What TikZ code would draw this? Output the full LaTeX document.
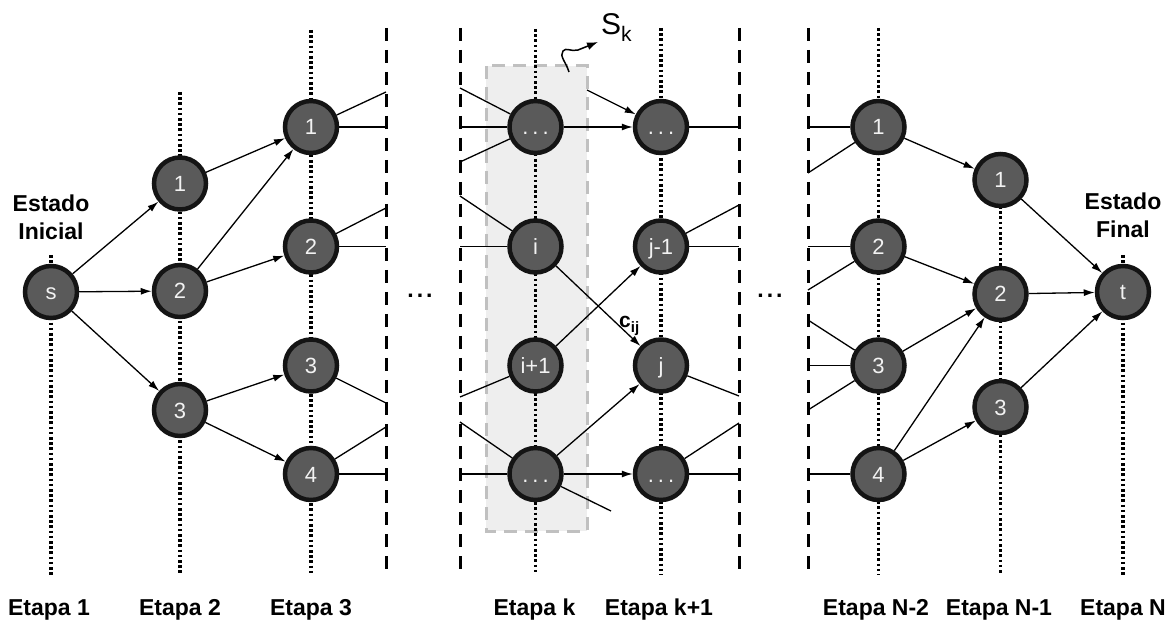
\documentclass[tikz,border=0pt]{standalone}
\usepackage{fontspec}
\setmainfont{Liberation Sans}
\usetikzlibrary{arrows.meta}
\definecolor{nodegray}{HTML}{5A5A5A}
\definecolor{nodeborder}{HTML}{141414}
\definecolor{boxfill}{HTML}{EEEEEE}
\definecolor{boxline}{HTML}{C0C0C0}
\definecolor{nodetext}{HTML}{F2F2F2}
\begin{document}
\begin{tikzpicture}[x=1pt,y=-1pt,
  st/.style={circle,fill=nodegray,draw=nodeborder,line width=4.5pt,minimum size=52pt,inner sep=0pt,outer sep=2.25pt,text=nodetext,font=\fontsize{22}{22}\selectfont,text height=16pt,text depth=0pt},
  ed/.style={line width=1.3pt},
  ar/.style={ed,-{Latex[length=11pt,width=7pt]}},
  dotl/.style={line width=3.2pt,dash pattern=on 2.6pt off 2.6pt},
  dashl/.style={line width=3pt,dash pattern=on 13pt off 9pt},
  lab/.style={font=\fontsize{23}{28}\selectfont\bfseries,inner sep=0pt},
  skbox/.style={fill=boxfill,draw=boxline,line width=3pt,dash pattern=on 13pt off 8pt}]
\useasboundingbox (0,0) rectangle (1176,620);
% shaded set S_k
\draw[skbox] (486,66) rectangle (587,531);
% dotted stage lines
\draw[dotl] (51,255) -- (51,575);
\draw[dotl] (180,92) -- (180,575);
\draw[dotl] (311,30) -- (311,575);
\draw[dotl] (535.5,29) -- (535.5,575);
\draw[dotl] (661,28) -- (661,575);
\draw[dotl] (878.5,28) -- (878.5,575);
\draw[dotl] (1000.5,180) -- (1000.5,575);
\draw[dotl] (1123,255) -- (1123,575);
% dashed separators
\draw[dashl] (386,28) -- (386,575);
\draw[dashl] (460,28) -- (460,575);
\draw[dashl] (739,28) -- (739,575);
\draw[dashl] (808,28) -- (808,575);
% nodes
\node[st] (s) at (51,292) {s};
\node[st] (a1) at (180,183.5) {1};
\node[st] (a2) at (180,291) {2};
\node[st] (a3) at (180,410) {3};
\node[st] (b1) at (311,127) {1};
\node[st] (b2) at (311,246.5) {2};
\node[st] (b3) at (311,365.5) {3};
\node[st] (b4) at (311,474) {4};
\node[st] (k1) at (535.5,127) {.\kern4pt.\kern4pt.};
\node[st] (k2) at (535.5,246.5) {i};
\node[st] (k3) at (535.5,365.5) {i+1};
\node[st] (k4) at (535.5,474) {.\kern4pt.\kern4pt.};
\node[st] (m1) at (661,127) {.\kern4pt.\kern4pt.};
\node[st] (m2) at (661,246.5) {j-1};
\node[st] (m3) at (661,365.5) {j};
\node[st] (m4) at (661,474) {.\kern4pt.\kern4pt.};
\node[st] (n1) at (878.5,127) {1};
\node[st] (n2) at (878.5,246.5) {2};
\node[st] (n3) at (878.5,365.5) {3};
\node[st] (n4) at (878.5,474) {4};
\node[st] (p1) at (1000.5,180) {1};
\node[st] (p2) at (1000.5,294) {2};
\node[st] (p3) at (1000.5,407) {3};
\node[st] (t) at (1123,292) {t};
% free ends
\coordinate (b1u) at (386,92);   \coordinate (b1h) at (386,127);
\coordinate (b2u) at (386,208);  \coordinate (b2h) at (386,246.5);
\coordinate (b3d) at (386,403);
\coordinate (b4u) at (386,427);  \coordinate (b4h) at (386,474);
\coordinate (k1a) at (460,88);   \coordinate (k1h) at (460,127);  \coordinate (k1b) at (460,162);
\coordinate (k2a) at (460,196);  \coordinate (k2h) at (460,246.5);
\coordinate (k3b) at (460,397);
\coordinate (k4a) at (460,422);  \coordinate (k4h) at (460,474);
\coordinate (k4e) at (611,511);
\coordinate (m1s) at (587,90);
\coordinate (m1h) at (739,127);
\coordinate (m2u) at (739,205);  \coordinate (m2h) at (739,246.5);
\coordinate (m3d) at (739,396);
\coordinate (m4u) at (739,423);  \coordinate (m4h) at (739,474);
\coordinate (n1h) at (808,127);  \coordinate (n1u) at (808,173);
\coordinate (n2h) at (808,246.5);\coordinate (n2u) at (808,290);
\coordinate (n3d) at (808,320);  \coordinate (n3h) at (808,365.5); \coordinate (n3u) at (808,410);
\coordinate (n4h) at (808,474);
% edges, first part
\draw[ar] (s) -- (a1);
\draw[ar] (s) -- (a2);
\draw[ar] (s) -- (a3);
\draw[ar] (a1) -- (b1);
\draw[ar] (a2) -- (b1);
\draw[ar] (a2) -- (b2);
\draw[ar] (a3) -- (b3);
\draw[ar] (a3) -- (b4);
\draw[ed] (b1) -- (b1u); \draw[ed] (b1) -- (b1h);
\draw[ed] (b2) -- (b2u); \draw[ed] (b2) -- (b2h);
\draw[ed] (b3) -- (b3d);
\draw[ed] (b4) -- (b4u); \draw[ed] (b4) -- (b4h);
% middle part
\draw[ed] (k1a) -- (k1); \draw[ed] (k1h) -- (k1); \draw[ed] (k1b) -- (k1);
\draw[ed] (k2a) -- (k2); \draw[ed] (k2h) -- (k2);
\draw[ed] (k3b) -- (k3);
\draw[ed] (k4a) -- (k4); \draw[ed] (k4h) -- (k4);
\draw[ed] (k4) -- (k4e);
\draw[ar] (m1s) -- (m1);
\draw[ar] (k1) -- (m1);
\draw[ar] (k2) -- (m3);
\draw[ar] (k3) -- (m2);
\draw[ar] (k4) -- (m3);
\draw[ar] (k4) -- (m4);
\draw[ed] (m1) -- (m1h);
\draw[ed] (m2) -- (m2u); \draw[ed] (m2) -- (m2h);
\draw[ed] (m3) -- (m3d);
\draw[ed] (m4) -- (m4u); \draw[ed] (m4) -- (m4h);
% last part
\draw[ed] (n1h) -- (n1); \draw[ed] (n1u) -- (n1);
\draw[ed] (n2h) -- (n2); \draw[ed] (n2u) -- (n2);
\draw[ed] (n3d) -- (n3); \draw[ed] (n3h) -- (n3); \draw[ed] (n3u) -- (n3);
\draw[ed] (n4h) -- (n4);
\draw[ar] (n1) -- (p1);
\draw[ar] (n2) -- (p2);
\draw[ar] (n3) -- (p2);
\draw[ar] (n4) -- (p2);
\draw[ar] (n4) -- (p3);
\draw[ar] (p1) -- (t);
\draw[ar] (p2) -- (t);
\draw[ar] (p3) -- (t);
% labels
\node[lab,align=center,anchor=north] (ei) at (51,195) {Estado\\Inicial};
\node[lab,align=center,anchor=north] (ef) at (1123,193) {Estado\\Final};
\node[lab,anchor=base] (d1) at (420,298) {.\kern3pt.\kern3pt.};
\node[lab,anchor=base] (d2) at (770,298) {.\kern3pt.\kern3pt.};
\node[inner sep=0pt,anchor=base west,font=\fontsize{21}{21}\selectfont\bfseries] (cij) at (619,328) {c\raisebox{-5pt}{\fontsize{15}{15}\selectfont ij}};
\node[inner sep=0pt,anchor=base west] (sk) at (601,35) {\fontsize{30}{30}\selectfont S\raisebox{-7pt}{\fontsize{21}{21}\selectfont k}};
\draw[line width=1.5pt,-{Latex[length=11pt,width=8pt]}] (569,72) .. controls (566,62) and (559,56) .. (563,51) .. controls (566,47) and (571,52) .. (578,50) -- (598,42);
\node[lab,anchor=base] (e1) at (49,615) {Etapa 1};
\node[lab,anchor=base] (e2) at (180,615) {Etapa 2};
\node[lab,anchor=base] (e3) at (311,615) {Etapa 3};
\node[lab,anchor=base] (ek) at (534.5,615) {Etapa k};
\node[lab,anchor=base] (ek1) at (659,615) {Etapa k+1};
\node[lab,anchor=base] (en2) at (876,615) {Etapa N-2};
\node[lab,anchor=base] (en1) at (999,615) {Etapa N-1};
\node[lab,anchor=base] (en) at (1123,615) {Etapa N};
\end{tikzpicture}
\end{document}
